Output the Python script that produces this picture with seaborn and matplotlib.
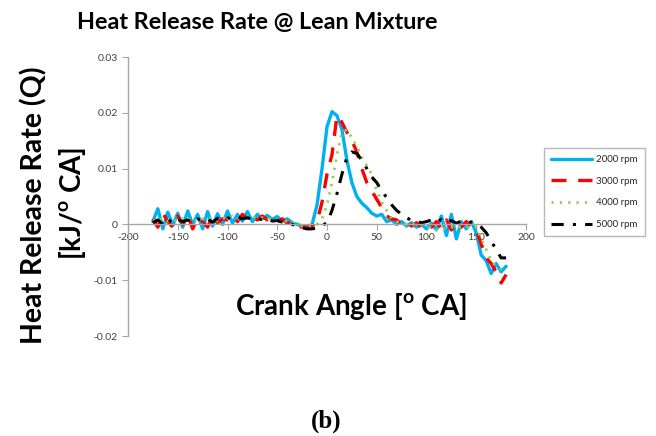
import numpy as np
import pandas as pd
import matplotlib
matplotlib.use("Agg")
import matplotlib.pyplot as plt
import seaborn as sns

# Crank angle (deg CA)
crank_angle = list(range(-175, 181, 5))

# Heat release rate (kJ/deg CA) (units of 1e-3 below)
hrr_2000 = [0.5, 2.8, -0.8, 2.2, -0.2, 2.0, -0.5, 2.4, 0.0, 1.8, -0.8, 2.3, -0.3, 1.9, 0.0, 2.4,
            0.2, 1.8, 0.6, 2.3, 0.5, 1.8, 1.0, 1.6, 0.9, 1.4, 0.6, 1.0, 0.3, 0.0, -0.3, -0.5,
            0.0, 3.5, 10.0, 17.5, 20.2, 19.5, 17.0, 11.5, 7.5, 5.0, 3.8, 3.0, 2.0, 1.5, 1.8, 0.5,
            0.8, 0.0, 0.5, -0.3, 0.3, -0.5, 0.0, -0.8, 0.2, -1.0, 1.5, -2.0, 1.8, -2.6, 0.5, -0.8,
            0.5, -1.5, -5.5, -6.5, -8.8, -7.0, -8.5, -7.5]
hrr_3000 = [1.0, -0.5, 2.0, 0.5, -0.5, 1.5, 0.0, 1.8, -0.8, 1.2, 0.5, -0.5, 1.5, 0.3, 1.0, 0.8,
            1.5, 0.5, 1.8, 1.0, 1.3, 0.8, 1.5, 0.8, 1.2, 0.5, 1.0, 0.2, 0.5, -0.3, -0.5, -0.5,
            -0.3, 0.5, 4.0, 9.0, 12.5, 19.5, 18.3, 16.5, 15.0, 13.0, 10.0, 7.5, 6.0, 4.5, 3.0, 1.5,
            1.0, 0.8, 0.0, 0.5, -0.3, 0.3, -0.5, 0.0, -0.5, 0.5, -0.8, 0.8, -1.0, 0.5, -0.5, 0.5,
            -0.5, -1.0, -3.5, -6.0, -7.0, -8.5, -10.5, -9.0]
hrr_4000 = [0.8, 0.5, 1.2, 0.6, 1.0, 0.4, 1.1, 0.7, 1.3, 0.5, 1.0, 0.8, 1.4, 0.6, 1.2, 1.0,
            1.5, 0.9, 1.3, 1.1, 1.5, 1.0, 1.2, 0.9, 1.1, 0.7, 0.8, 0.5, 0.3, 0.0, -0.3, -0.5,
            -0.3, 0.0, 1.0, 3.5, 7.5, 12.5, 16.5, 17.0, 15.5, 14.0, 12.0, 10.5, 9.0, 6.0, 4.0, 2.5,
            1.0, 0.5, 0.3, 0.0, 0.2, -0.3, 0.0, -0.5, -0.8, -1.0, -0.6, -0.9, -0.5, -0.8, -0.4, -0.6,
            -0.3, -0.5, -2.5, -4.5, -6.5, -7.5, -8.0, -8.5]
hrr_5000 = [0.3, 0.8, 0.0, 1.0, 0.2, 0.9, 0.5, 0.8, 0.3, 1.0, 0.6, 0.9, 0.4, 1.1, 0.8, 1.2,
            0.9, 1.3, 1.0, 1.2, 0.9, 1.1, 0.8, 1.0, 0.6, 0.7, 0.4, 0.2, 0.0, -0.3, -0.6, -0.8,
            -0.8, -0.6, -0.2, 0.3, 2.5, 5.5, 9.0, 12.0, 13.0, 12.7, 11.5, 10.0, 8.5, 7.5, 6.0, 4.8,
            3.5, 2.5, 1.8, 1.2, 0.7, 0.5, 0.3, 0.5, 0.8, 0.4, 0.9, 0.3, 0.7, 0.2, 0.6, 0.3,
            0.4, 0.0, -0.5, -1.5, -3.0, -4.5, -6.0, -6.0]

series_labels = ["2000 rpm", "3000 rpm", "4000 rpm", "5000 rpm"]
x_ticks = [-200, -150, -100, -50, 0, 50, 100, 150, 200]
y_ticks = [-0.02, -0.01, 0, 0.01, 0.02, 0.03]
y_tick_labels = ["-0.02", "-0.01", "0", "0.01", "0.02", "0.03"]

sns.set_style("white")
plt.rcParams['font.family'] = ['Lato', 'DejaVu Sans']
plt.rcParams['text.color'] = 'black'
plt.rcParams['axes.unicode_minus'] = False
plt.rcParams['mathtext.fontset'] = 'custom'
plt.rcParams['mathtext.rm'] = 'Lato'
plt.rcParams['mathtext.bf'] = 'Lato:bold'

fig = plt.figure(figsize=(6.56, 4.36), dpi=100)
ax = fig.add_axes([128/656, 1-336/436, (526-128)/656, (336-57)/436])

styles = [
    dict(color="#00B0F0", linewidth=2.4, linestyle="-"),
    dict(color="#FF0000", linewidth=2.4, dashes=(4.5, 3.5)),
    dict(color="#92D050", linewidth=2.0, dashes=(0.8, 2.2)),
    dict(color="#000000", linewidth=2.2, dashes=(4, 3, 1, 3)),
]
for vals, lab, st in zip([hrr_2000, hrr_3000, hrr_4000, hrr_5000], series_labels, styles):
    df = pd.DataFrame({"angle": crank_angle, "hrr": np.array(vals) * 1e-3})
    sns.lineplot(data=df, x="angle", y="hrr", ax=ax, label=lab, **st)

ax.set_xlim(-200, 200)
ax.set_ylim(-0.02, 0.03)
ax.set_xticks(x_ticks)
ax.set_yticks(y_ticks)
ax.set_yticklabels(y_tick_labels)
ax.spines['top'].set_visible(False)
ax.spines['right'].set_visible(False)
ax.spines['bottom'].set_position(('data', 0))
for s in ['left', 'bottom']:
    ax.spines[s].set_color('#A6A6A6')
    ax.spines[s].set_linewidth(1.0)
ax.tick_params(axis='both', which='both', direction='out', length=4, color='#A6A6A6',
               labelsize=7.5, labelcolor='#404040', left=True, bottom=True)
ax.tick_params(axis='x', pad=2)
ax.set_xlabel("")
ax.set_ylabel("")

leg = ax.legend(loc='upper left', bbox_to_anchor=(539/656, 1-143/436), bbox_transform=fig.transFigure,
                frameon=True, fontsize=7, handlelength=4.2, handletextpad=0.4,
                labelspacing=1.3, borderpad=0.75, fancybox=False)
leg.get_frame().set_edgecolor('#A6A6A6')
leg.get_frame().set_linewidth(1.0)
for t in leg.get_texts():
    t.set_color('#262626')

fig.text(257/656, 1-23/436, "Heat Release Rate @ Lean Mixture", ha='center', va='center',
         fontsize=16.8, fontweight='bold', color='black')
fig.text(351/656, 1-306/436, r"Crank Angle [$^{\mathbf{o}}$ CA]", ha='center', va='center',
         fontsize=20, fontweight='bold', color='black')
fig.text(34/656, 1-205/436, "Heat Release Rate (Q)", ha='center', va='center', rotation=90,
         fontsize=20.5, fontweight='bold', color='black')
fig.text(72/656, 1-203/436, r"[kJ/$^{\mathbf{o}}$ CA]", ha='center', va='center', rotation=90,
         fontsize=20, fontweight='bold', color='black')
fig.text(326/656, 1-421/436, "(b)", ha='center', va='center', fontsize=18, fontweight='bold',
         family='Liberation Serif', color='black')

fig.savefig("out.png", dpi=100)
